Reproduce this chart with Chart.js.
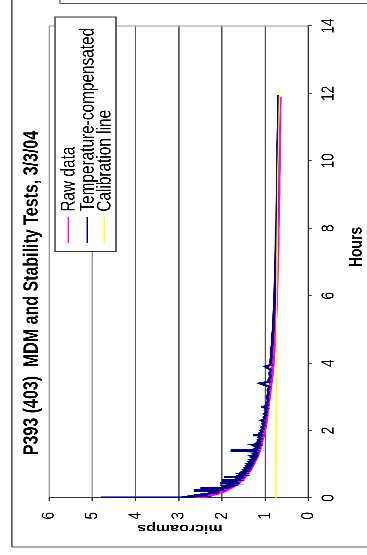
<!DOCTYPE html>
<html><head><meta charset="utf-8">
<script src="https://cdn.jsdelivr.net/npm/chart.js@4"></script>
<style>
html,body{margin:0;padding:0;background:#fff;overflow:hidden;width:367px;height:555px;}
#wrap{position:absolute;left:0;top:0;width:555px;height:282px;transform-origin:0 0;transform:translate(0px,555px) rotate(-90deg) scale(1,1.3014);}
canvas{display:block;}
</style></head><body>
<div id="wrap"><canvas id="c" width="555" height="282"></canvas></div>
<script>
const titleText = 'P393 (403)  MDM and Stability Tests, 3/3/04';
const xAxisTitle = 'Hours';
const yAxisTitle = 'microamps';
const seriesNames = ['Raw data', 'Temperature-compensated', 'Calibration line'];
const seriesColors = ['#FF00FF', '#000080', '#FFFF00'];
const hourTicks = [0, 2, 4, 6, 8, 10, 12, 14];
const microampTicks = [0, 1, 2, 3, 4, 5, 6];

const rawHours = [0, 0.02, 0.04, 0.06, 0.08, 0.1, 0.13, 0.16, 0.2, 0.25, 0.3, 0.35, 0.4, 0.45, 0.5, 0.6, 0.7, 0.8, 0.9, 1.0, 1.1, 1.2, 1.3, 1.4, 1.5, 1.6, 1.8, 2.0, 2.2, 2.4, 2.6, 2.8, 3.0, 3.2, 3.4, 3.6, 3.8, 4.0, 4.3, 4.6, 5.0, 5.4, 5.8, 6.2, 6.6, 7.0, 7.5, 8.0, 8.5, 9.0, 9.5, 10.0, 10.5, 11.0, 11.5, 11.9];
const rawValues = [2.6, 2.5, 2.4, 2.33, 2.27, 2.2, 2.12, 2.05, 1.96, 1.88, 1.8, 1.73, 1.67, 1.62, 1.57, 1.49, 1.43, 1.37, 1.32, 1.28, 1.24, 1.2, 1.17, 1.14, 1.12, 1.1, 1.06, 1.02, 0.99, 0.97, 0.95, 0.93, 0.91, 0.89, 0.87, 0.85, 0.84, 0.82, 0.81, 0.79, 0.78, 0.76, 0.75, 0.74, 0.73, 0.72, 0.71, 0.71, 0.7, 0.69, 0.69, 0.68, 0.68, 0.67, 0.67, 0.66];

const compHours = [0, 0.005, 0.01, 0.015, 0.02, 0.03, 0.04, 0.05, 0.06, 0.07, 0.08, 0.09, 0.1, 0.11, 0.12, 0.14, 0.16, 0.18, 0.2, 0.22, 0.23, 0.25, 0.26, 0.28, 0.29, 0.3, 0.32, 0.34, 0.36, 0.38, 0.4, 0.42, 0.43, 0.44, 0.46, 0.48, 0.5, 0.52, 0.53, 0.55, 0.58, 0.6, 0.62, 0.63, 0.66, 0.68, 0.7, 0.72, 0.74, 0.77, 0.8, 0.83, 0.86, 0.89, 0.92, 0.95, 0.98, 1.01, 1.04, 1.07, 1.1, 1.13, 1.16, 1.19, 1.22, 1.25, 1.28, 1.31, 1.34, 1.38, 1.4, 1.42, 1.45, 1.48, 1.52, 1.55, 1.58, 1.61, 1.65, 1.68, 1.72, 1.76, 1.8, 1.84, 1.86, 1.88, 1.92, 1.96, 2.0, 2.05, 2.1, 2.15, 2.2, 2.25, 2.3, 2.35, 2.4, 2.45, 2.5, 2.55, 2.6, 2.65, 2.7, 2.75, 2.8, 2.9, 3.0, 3.1, 3.2, 3.3, 3.4, 3.45, 3.5, 3.6, 3.7, 3.8, 3.9, 3.95, 4.05, 4.2, 4.4, 4.6, 4.8, 5.0, 5.3, 5.6, 6.0, 6.5, 7.0, 7.5, 8.0, 8.5, 9.0, 9.5, 10.0, 10.5, 11.0, 11.5, 11.95];
const compValues = [4.8, 4.0, 3.4, 3.1, 2.95, 2.8, 2.68, 2.75, 2.55, 2.6, 2.45, 2.5, 2.36, 2.42, 2.3, 2.33, 2.16, 2.22, 2.06, 2.65, 2.04, 2.1, 1.96, 2.5, 1.95, 1.88, 2.0, 1.83, 1.9, 1.76, 1.82, 1.72, 2.05, 1.7, 1.78, 1.66, 1.7, 2.0, 1.62, 1.68, 1.58, 1.62, 1.95, 1.55, 1.6, 1.5, 1.56, 1.6, 1.46, 1.52, 1.42, 1.48, 1.38, 1.45, 1.36, 1.42, 1.33, 1.4, 1.3, 1.36, 1.28, 1.34, 1.25, 1.3, 1.23, 1.32, 1.21, 1.26, 1.19, 1.25, 1.8, 1.2, 1.24, 1.16, 1.22, 1.15, 1.28, 1.13, 1.18, 1.12, 1.16, 1.1, 1.15, 1.08, 1.28, 1.09, 1.13, 1.06, 1.1, 1.04, 1.08, 1.02, 1.06, 1.01, 1.09, 1.0, 1.03, 0.98, 1.02, 0.97, 1.0, 0.95, 1.05, 0.95, 0.97, 0.93, 0.96, 0.92, 0.94, 0.9, 1.12, 0.9, 0.92, 0.88, 0.9, 0.87, 1.0, 0.86, 0.88, 0.85, 0.86, 0.83, 0.84, 0.81, 0.81, 0.79, 0.78, 0.77, 0.76, 0.75, 0.74, 0.73, 0.72, 0.72, 0.71, 0.71, 0.7, 0.7, 0.7];

const calHours = [0, 5.5, 9.5, 12];
const calValues = [0.75, 0.74, 0.71, 0.67];

const FONT = '"Liberation Sans", Arial, sans-serif';
const toPts = (xs, ys) => xs.map((x, i) => ({x: x, y: ys[i]}));

const decor = {
  id: 'decor',
  beforeDraw(chart) {
    const ctx = chart.ctx;
    ctx.save();
    ctx.fillStyle = '#fff';
    ctx.fillRect(0, 0, chart.width, chart.height);
    ctx.strokeStyle = '#555';
    ctx.lineWidth = 1;
    ctx.beginPath();
    ctx.moveTo(8, 9.2); ctx.lineTo(555, 9.2);
    ctx.moveTo(8, 9.2); ctx.lineTo(8, 282);
    ctx.moveTo(551.5, 46); ctx.lineTo(551.5, 282);
    ctx.moveTo(551.5, 46); ctx.lineTo(555, 46);
    ctx.stroke();
    ctx.restore();
  },
  beforeDatasetsDraw(chart) {
    const ctx = chart.ctx, a = chart.chartArea;
    ctx.save();
    ctx.strokeStyle = '#999';
    ctx.lineWidth = 1;
    ctx.beginPath();
    ctx.moveTo(a.right, a.top); ctx.lineTo(a.right, a.bottom);
    ctx.stroke();
    ctx.restore();
  },
  afterDraw(chart) {
    const ctx = chart.ctx;
    ctx.save();
    const lx0 = 303.3, lx1 = 538, ly0 = 42.3, ly1 = 89.1;
    ctx.fillStyle = '#fff';
    ctx.fillRect(lx0, ly0, lx1 - lx0, ly1 - ly0);
    ctx.strokeStyle = '#333';
    ctx.lineWidth = 1;
    ctx.strokeRect(lx0, ly0, lx1 - lx0, ly1 - ly0);
    const rows = [52.5, 67.1, 80.1];
    ctx.font = '15.4px ' + FONT;
    ctx.textBaseline = 'middle';
    ctx.textAlign = 'left';
    seriesNames.forEach((name, i) => {
      ctx.strokeStyle = seriesColors[i];
      ctx.lineWidth = 1.2;
      ctx.beginPath();
      ctx.moveTo(311.7, rows[i]); ctx.lineTo(338.3, rows[i]);
      ctx.stroke();
      ctx.fillStyle = '#000';
      ctx.fillText(name, 343.3, rows[i] + 0.5);
    });
    ctx.fillStyle = '#000';
    ctx.textAlign = 'center';
    ctx.font = 'bold 16px ' + FONT;
    ctx.fillText(titleText, 262, 24.5);
    ctx.font = 'bold 14px ' + FONT;
    ctx.fillText(xAxisTitle, 308, 274);
    ctx.translate(27, 138.3);
    ctx.rotate(-Math.PI / 2);
    ctx.font = 'bold 12.3px ' + FONT;
    ctx.fillText(yAxisTitle, 0, 0);
    ctx.restore();
  }
};

new Chart(document.getElementById('c'), {
  type: 'line',
  data: {
    datasets: [
      {label: seriesNames[0], data: toPts(rawHours, rawValues), borderColor: seriesColors[0], borderWidth: 2.8, pointRadius: 0, tension: 0, order: 3},
      {label: seriesNames[1], data: toPts(compHours, compValues), borderColor: seriesColors[1], borderWidth: 2.2, pointRadius: 0, tension: 0, order: 2},
      {label: seriesNames[2], data: toPts(calHours, calValues), borderColor: seriesColors[2], borderWidth: 1, pointRadius: 0, tension: 0, order: 1}
    ]
  },
  options: {
    responsive: false,
    animation: false,
    devicePixelRatio: 3,
    layout: {padding: {top: 37.7, right: 26, left: 0, bottom: 0}},
    plugins: {legend: {display: false}, tooltip: {enabled: false}, title: {display: false}},
    scales: {
      x: {
        type: 'linear', min: 0, max: 14,
        afterBuildTicks: s => { s.ticks = hourTicks.map(v => ({value: v})); },
        afterFit: s => { s.height = 45; },
        ticks: {font: {family: FONT, size: 13.5}, color: '#000', padding: 5, maxRotation: 0, autoSkip: false},
        grid: {drawOnChartArea: false, drawTicks: true, tickLength: 2.5, tickColor: '#333', tickWidth: 1},
        border: {display: true, color: '#333', width: 1.2}
      },
      y: {
        type: 'linear', min: 0, max: 6,
        afterBuildTicks: s => { s.ticks = microampTicks.map(v => ({value: v})); },
        afterFit: s => { s.width = 57; },
        ticks: {font: {family: FONT, size: 13.5}, color: '#000', padding: 11},
        grid: {
          color: c => (c.tick && c.tick.value >= 5) ? '#9a9a9a' : '#555',
          lineWidth: 1, drawTicks: true, tickLength: 3, tickColor: '#333'
        },
        border: {display: true, color: '#333', width: 1}
      }
    }
  },
  plugins: [decor]
});
</script>
</body></html>
